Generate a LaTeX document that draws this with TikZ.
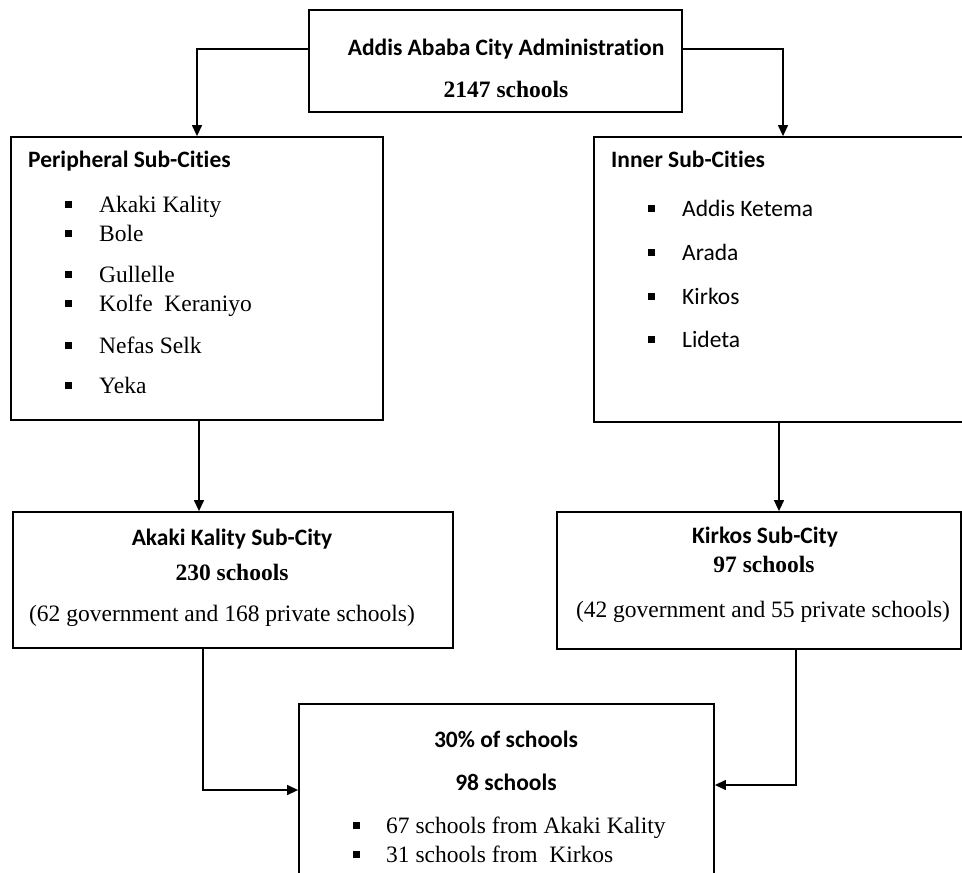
\documentclass[tikz,border=0pt]{standalone}
\usepackage{fontspec}
\setmainfont{Liberation Serif}
\newfontfamily\calibfont[Ligatures=NoCommon]{Carlito}
\usetikzlibrary{arrows.meta}
\tikzset{
 box/.style={draw, line width=1.8pt, inner sep=0pt},
 arr/.style={line width=1.3pt, -{Triangle[length=11pt,width=10pt]}},
 sf/.style={font=\calibfont\fontsize{23.5}{28}\selectfont, inner sep=0pt},
 sfb/.style={font=\calibfont\bfseries\fontsize{23.5}{28}\selectfont, inner sep=0pt},
 rm/.style={font=\fontsize{23.5}{28}\selectfont, inner sep=0pt},
 rmb/.style={font=\bfseries\fontsize{23.5}{28}\selectfont, inner sep=0pt},
 bul/.style={fill, minimum size=7pt, inner sep=0pt},
}
\begin{document}
\begin{tikzpicture}[x=1pt,y=-1pt]
\useasboundingbox (0,0) rectangle (962,873);
\clip (0,0) rectangle (962,873);
% boxes
\node[box, minimum width=373pt, minimum height=102pt] (top) at (495.5,61) {};
\node[box, minimum width=372pt, minimum height=283pt] (periph) at (197,278.5) {};
\node[box, minimum width=378pt, minimum height=285pt] (inner) at (783,279.5) {};
\node[box, minimum width=440pt, minimum height=136pt] (akaki) at (233,580) {};
\node[box, minimum width=404pt, minimum height=137pt] (kirkos) at (759,580.5) {};
\node[box, minimum width=415pt, minimum height=206pt] (bottom) at (506.5,807) {};
% connectors
\draw[arr] ([yshift=12pt]top.west) -| (periph.north);
\draw[arr] ([yshift=12pt]top.east) -| (inner.north);
\draw[arr] ([xshift=2pt]periph.south) -- ([xshift=-34pt]akaki.north);
\draw[arr] ([xshift=-4pt]inner.south) -- ([xshift=20pt]kirkos.north);
\draw[arr] ([xshift=-30pt]akaki.south) |- ([yshift=17pt]bottom.west);
\draw[arr] ([xshift=37pt]kirkos.south) |- ([yshift=22pt]bottom.east);
% top texts
\node[sfb, anchor=base] (t1) at (506,55) {Addis Ababa City Administration};
\node[rmb, anchor=base] (t2) at (506,97) {2147 schools};
% peripheral
\node[sfb, anchor=base west] (ph) at (28,167) {Peripheral Sub-Cities};
\foreach \n/\t/\y in {1/Akaki Kality/212, 2/Bole/241, 3/Gullelle/282, 4/Kolfe\ \ Keraniyo/311, 5/Nefas Selk/353, 6/Yeka/393}{
  \node[bul] (pb\n) at (68.5,\y-8) {};
  \node[rm, anchor=base west] (pt\n) at (99,\y) {\t};
}
% inner
\node[sfb, anchor=base west] (ih) at (611,167) {Inner Sub-Cities};
\foreach \n/\t/\y in {1/Addis Ketema/216, 2/Arada/260, 3/Kirkos/304, 4/Lideta/347}{
  \node[bul] (ib\n) at (651,\y-8) {};
  \node[sf, anchor=base west] (it\n) at (682,\y) {\t};
}
% akaki
\node[sfb, anchor=base] (a1) at (232,545) {Akaki Kality Sub-City};
\node[rmb, anchor=base] (a2) at (232,580) {230 schools};
\node[rm, anchor=base] (a3) at (222,621) {(62 government and 168 private schools)};
% kirkos
\node[sfb, anchor=base] (k1) at (765,543) {Kirkos Sub-City};
\node[rmb, anchor=base] (k2) at (764,572) {97 schools};
\node[rm, anchor=base] (k3) at (763,617) {(42 government and 55 private schools)};
% bottom
\node[sfb, anchor=base] (b1) at (506,747) {30\% of schools};
\node[sfb, anchor=base] (b2) at (506,790) {98 schools};
\node[bul] (bb1) at (356,825) {};
\node[bul] (bb2) at (356,854) {};
\node[rm, anchor=base west] (bt1) at (386,833) {67 schools from Akaki Kality};
\node[rm, anchor=base west] (bt2) at (386,862) {31 schools from\ \ Kirkos};
\end{tikzpicture}
\end{document}
